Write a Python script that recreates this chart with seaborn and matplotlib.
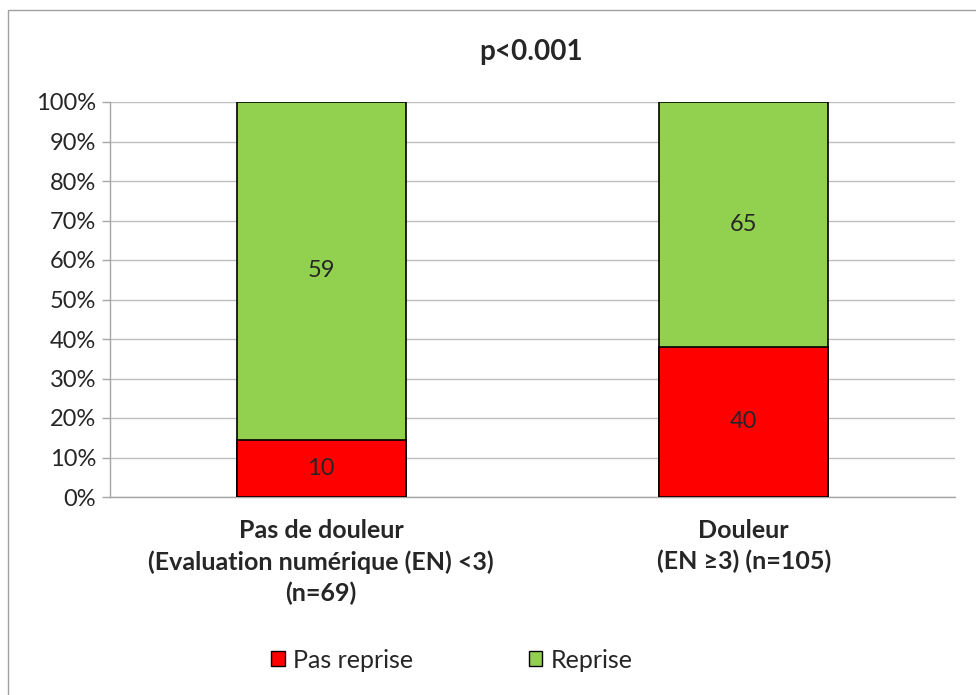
import pandas as pd
import seaborn as sns
import matplotlib.pyplot as plt
import matplotlib.patches as patches
from matplotlib.ticker import FuncFormatter

sns.set_theme(style="white")
plt.rcParams['font.family'] = ['Lato', 'DejaVu Sans']

# data
groups = ["Pas de douleur\n(Evaluation numérique (EN) <3)\n(n=69)",
          "Douleur\n(EN ≥3) (n=105)"]
pas_reprise = [10, 40]
reprise = [59, 65]
series_names = ["Pas reprise", "Reprise"]
colors = ["#FF0000", "#92D050"]
title = "p<0.001"

totals = [a + b for a, b in zip(pas_reprise, reprise)]
df = pd.DataFrame({
    "group": groups,
    "pas_pct": [100 * a / t for a, t in zip(pas_reprise, totals)],
    "total_pct": [100.0 for _ in totals],
})

fig = plt.figure(figsize=(9.76, 6.95), dpi=100)
ax = fig.add_axes([110 / 976, 1 - 497 / 695, (955 - 110) / 976, (497 - 102) / 695])

sns.barplot(data=df, x="group", y="total_pct", color=colors[1], width=0.4,
            edgecolor="black", linewidth=1.2, saturation=1, ax=ax, zorder=3)
sns.barplot(data=df, x="group", y="pas_pct", color=colors[0], width=0.4,
            edgecolor="black", linewidth=1.2, saturation=1, ax=ax, zorder=4)

for i in range(len(groups)):
    p = df["pas_pct"][i]
    ax.text(i, p / 2, str(pas_reprise[i]), ha="center", va="center", fontsize=17, zorder=5)
    ax.text(i, (p + 100) / 2, str(reprise[i]), ha="center", va="center", fontsize=17, zorder=5)

ax.set_ylim(0, 100)
ax.set_xlim(-0.5, 1.5)
ax.set_yticks(range(0, 101, 10))
ax.yaxis.set_major_formatter(FuncFormatter(lambda v, _: f"{int(v)}%"))
ax.yaxis.grid(True, color="#BFBFBF", linewidth=1, zorder=0)
ax.set_axisbelow(True)
ax.set_xlabel("")
ax.set_ylabel("")
ax.set_xticks([0, 1])
ax.set_xticklabels(groups, fontsize=18, fontweight="bold", linespacing=1.4)
ax.set_xticks([-0.5, 0.5, 1.5], minor=True)
ax.tick_params(axis="x", which="major", length=0, pad=16)
ax.tick_params(axis="x", which="minor", length=8, color="#A6A6A6", width=1)
ax.tick_params(axis="y", which="major", length=6, color="#A6A6A6", width=1,
               labelsize=17, left=True, pad=4)
for s in ["top", "right"]:
    ax.spines[s].set_visible(False)
for s in ["left", "bottom"]:
    ax.spines[s].set_color("#A6A6A6")
    ax.spines[s].set_linewidth(1)

fig.text(531 / 976, 1 - 52 / 695, title, ha="center", va="center",
         fontsize=20, fontweight="bold")

handles = [patches.Patch(facecolor=c, edgecolor="black", linewidth=1) for c in colors]
fig.legend(handles, series_names, loc="center", bbox_to_anchor=(452 / 976, 1 - 660 / 695),
           ncol=2, frameon=False, fontsize=18, handlelength=0.55, handleheight=0.55,
           handletextpad=0.35, columnspacing=4.6)

fig.patches.append(patches.Rectangle((8 / 976, -0.01), 1.0, 1 - 10 / 695 + 0.01,
                                     transform=fig.transFigure, fill=False,
                                     edgecolor="#A0A0A0", linewidth=1))

fig.savefig("out.png", dpi=100)
